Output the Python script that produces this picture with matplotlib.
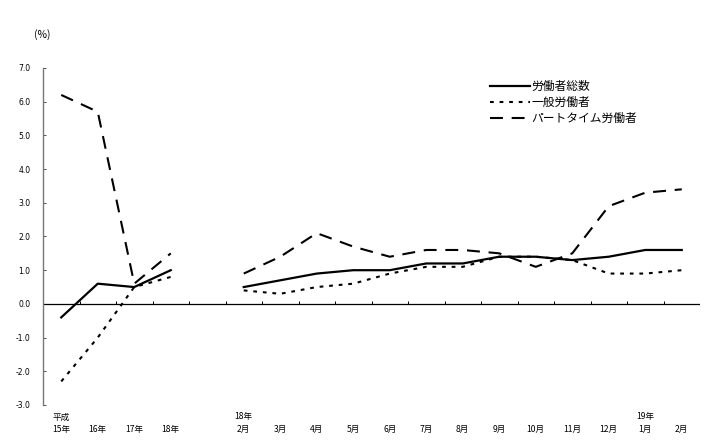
import numpy as np
import matplotlib
matplotlib.use("Agg")
import matplotlib.pyplot as plt
import matplotlib.transforms as mtrans

plt.rcParams['font.family'] = ['Noto Sans CJK JP', 'DejaVu Sans']

# categories (index 4 is an empty gap slot)
line1 = ["平成", "", "", "", "", "18年", "", "", "", "", "", "", "", "", "", "", "19年", ""]
line2 = ["15年", "16年", "17年", "18年", "", "2月", "3月", "4月", "5月", "6月", "7月", "8月", "9月",
         "10月", "11月", "12月", "1月", "2月"]

nan = np.nan
total = [-0.4, 0.6, 0.5, 1.0, nan, 0.5, 0.7, 0.9, 1.0, 1.0, 1.2, 1.2, 1.4, 1.4, 1.3, 1.4, 1.6, 1.6]
general = [-2.3, -1.0, 0.5, 0.8, nan, 0.4, 0.3, 0.5, 0.6, 0.9, 1.1, 1.1, 1.4, 1.4, 1.3, 0.9, 0.9, 1.0]
parttime = [6.2, 5.7, 0.6, 1.5, nan, 0.9, 1.4, 2.1, 1.7, 1.4, 1.6, 1.6, 1.5, 1.1, 1.5, 2.9, 3.3, 3.4]
series_names = ["労働者総数", "一般労働者", "パートタイム労働者"]

yticks = [7.0, 6.0, 5.0, 4.0, 3.0, 2.0, 1.0, 0.0, -1.0, -2.0, -3.0]

fig = plt.figure(figsize=(7.25, 4.42), dpi=100)
W, H = 725, 442
left, right, top, bottom = 43, 700, 68, 405
ax = fig.add_axes([left / W, 1 - bottom / H, (right - left) / W, (bottom - top) / H])

n = len(line2)
x = np.arange(n)

ax.plot(x, total, color="black", lw=1.6, linestyle="-", label=series_names[0])
ax.plot(x, general, color="black", lw=1.5, linestyle=(0, (1.8, 2.8)), label=series_names[1])
ax.plot(x, parttime, color="black", lw=1.5, linestyle=(0, (6.2, 4.2)), label=series_names[2])

ax.set_xlim(-0.5, n - 0.5)
ax.set_ylim(-3.0, 7.0)

for s in ["top", "right", "bottom"]:
    ax.spines[s].set_visible(False)
ax.spines["left"].set_color("#777777")
ax.spines["left"].set_linewidth(1.0)

ax.set_yticks(yticks)
ax.set_yticklabels([f"{v:.1f}" for v in yticks], fontsize=5.5, family=['DejaVu Sans'])
ax.tick_params(axis="y", direction="in", length=2, width=0.6, pad=9, colors="#333333")
ax.tick_params(axis="y", labelcolor="black")

ax.set_xticks([])
# zero line with boundary ticks
ax.axhline(0, color="black", lw=0.9)
bounds = np.arange(1, n + 1) - 0.5
ax.vlines(bounds, 0, 0.09, color="black", lw=0.7)

trans = mtrans.blended_transform_factory(ax.transData, ax.transAxes)
for i in range(n):
    if line1[i]:
        ax.text(x[i], -0.022, line1[i], transform=trans, ha="center", va="top", fontsize=6.2)
    if line2[i]:
        ax.text(x[i], -0.06, line2[i], transform=trans, ha="center", va="top", fontsize=6.2)

fig.text(42 / W, 1 - 35 / H, "(%)", fontsize=7.5, ha="center", va="center")

leg = ax.legend(loc="upper left", bbox_to_anchor=((490 - left) / (right - left), 1 - (80 - top) / (bottom - top)),
                frameon=False, fontsize=8.5, handlelength=3.4, handletextpad=0.1,
                labelspacing=0.25, borderaxespad=0, borderpad=0)

fig.savefig("out.png", dpi=100)
